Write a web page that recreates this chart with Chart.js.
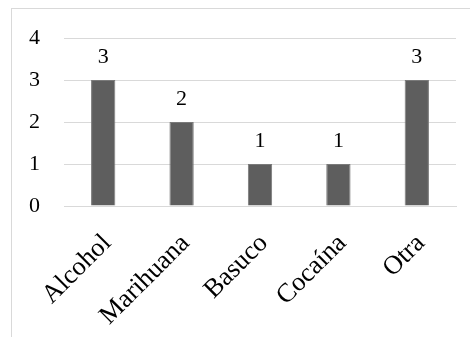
<!DOCTYPE html>
<html>
<head>
<meta charset="utf-8">
<script src="https://cdn.jsdelivr.net/npm/chart.js@4"></script>
<style>
  html, body { margin: 0; padding: 0; background: #fff; overflow: hidden; }
  #wrap { position: relative; width: 470px; height: 337px; }
  #frame {
    position: absolute; left: 11px; top: 8px; width: 600px; height: 500px;
    border-top: 1px solid #d9d9d9; border-left: 1px solid #d9d9d9;
  }
  canvas { position: absolute; left: 0; top: 0; }
</style>
</head>
<body>
<div id="wrap">
  <div id="frame"></div>
  <canvas id="chart" width="470" height="337"></canvas>
</div>
<script>
const categories = ['Alcohol', 'Marihuana', 'Basuco', 'Cocaína', 'Otra']
const values = [3, 2, 1, 1, 3]
const yTicks = [0, 1, 2, 3, 4]

const family = '"Liberation Serif", "Times New Roman", serif'
const font = { family, size: 22 }
const xFont = { family, size: 26.5 }

// value labels above each bar
const barLabels = {
  id: 'barLabels',
  afterDatasetsDraw(chart) {
    const c = chart.ctx
    const meta = chart.getDatasetMeta(0)
    c.save()
    c.font = `${font.size}px ${font.family}`
    c.fillStyle = '#000'
    c.textAlign = 'center'
    c.textBaseline = 'alphabetic'
    meta.data.forEach((bar, i) => {
      c.fillText(String(values[i]), bar.x, bar.y - 17)
    })
    c.restore()
  },
}

const ctx = document.getElementById('chart').getContext('2d')
new Chart(ctx, {
  type: 'bar',
  data: {
    labels: categories,
    datasets: [
      {
        data: values,
        backgroundColor: '#5e5e5e',
        borderColor: '#7a7a7a',
        borderWidth: 1,
        barPercentage: 0.62,
        categoryPercentage: 0.5,
      },
    ],
  },
  options: {
    responsive: false,
    animation: false,
    layout: { padding: { top: 38, right: 14, left: 0, bottom: 0 } },
    plugins: { legend: { display: false }, tooltip: { enabled: false } },
    scales: {
      x: {
        grid: { display: false, drawTicks: false },
        border: { display: true, color: '#d9d9d9', width: 1 },
        ticks: {
          color: '#000',
          font: xFont,
          minRotation: 45,
          maxRotation: 45,
          padding: 22,
          labelOffset: 4,
          autoSkip: false,
        },
        afterFit: axis => { axis.height = 131 },
      },
      y: {
        min: 0,
        max: 4,
        afterBuildTicks: axis => { axis.ticks = yTicks.map(v => ({ value: v })) },
        grid: { color: '#d9d9d9', lineWidth: 1, drawTicks: false },
        border: { display: false },
        ticks: { color: '#000', font, padding: 24 },
        afterFit: axis => { axis.width = 64 },
      },
    },
  },
  plugins: [barLabels],
})
</script>
</body>
</html>
